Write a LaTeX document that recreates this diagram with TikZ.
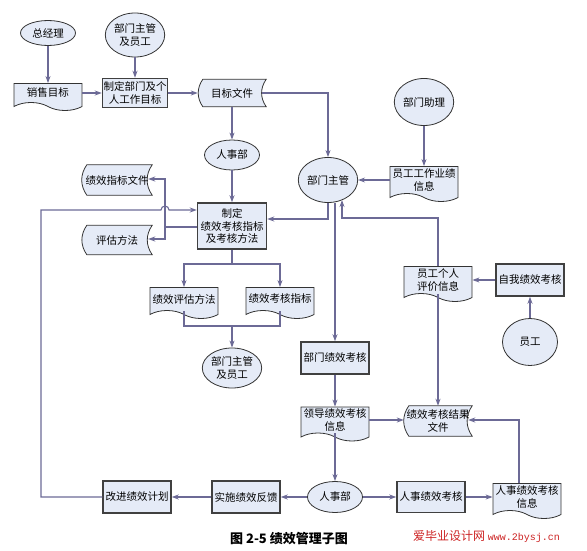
\documentclass[tikz,border=0pt]{standalone}
\usepackage{fontspec}
\setmainfont{Noto Sans CJK SC}
\setmonofont{Liberation Mono}
\usepackage{tikz}
\usetikzlibrary{positioning, arrows.meta, shapes.geometric, shapes.symbols, calc, backgrounds}

\definecolor{boxfill}{RGB}{229,235,247}
\definecolor{boxline}{RGB}{64,64,64}
\definecolor{flowline}{RGB}{108,106,150}
\definecolor{markred}{RGB}{204,34,34}

\tikzset{
  proc/.style={rectangle, draw=boxline, line width=1.5pt, fill=boxfill,
    minimum width=68pt, minimum height=32pt, inner sep=1pt, align=center},
  actor/.style={ellipse, draw=black!80, line width=0.8pt, fill=boxfill,
    minimum width=55pt, inner sep=0pt, align=center},
  doc/.style={tape, tape bend top=none, tape bend bottom=out and in,
    tape bend height=8pt, draw=black!80, line width=0.8pt, fill=boxfill,
    minimum width=68pt, inner sep=1pt, align=center},
  stored/.style={minimum width=68pt, minimum height=29pt, inner sep=1pt, align=center},
  storedline/.style={draw=black!80, line width=0.8pt, fill=boxfill},
  flow/.style={draw=flowline, line width=1.1pt, -{Stealth[length=7pt, width=5pt]}},
  link/.style={draw=flowline, line width=1.1pt},
}

\newcommand{\storedshape}[1]{%
  \path[storedline] ($(#1.north west)+(5pt,0)$) -- (#1.north east)
    to[bend right=35] (#1.south east) -- ($(#1.south west)+(5pt,0)$)
    to[bend left=35] ($(#1.north west)+(5pt,0)$) -- cycle;}

\begin{document}
\begin{tikzpicture}[x=1pt, y=-1pt, font=\fontsize{10.5}{12.5}\selectfont]
    \useasboundingbox (0,0) rectangle (587,551);

    \node[doc, minimum height=27pt] (sales) at (48,93) {销售目标};
    \node[proc, minimum width=65pt, minimum height=29pt] (setgoal) [right of=sales, node distance=87pt] {制定部门及个\\人工作目标};
    \node[stored, minimum height=27pt] (goalfile) [right of=setgoal, node distance=97pt] {目标文件};
    \node[actor, minimum height=25pt] (gm) [above of=sales, node distance=60pt] {总经理};
    \node[actor, minimum height=44pt] (mgrtop) [above of=setgoal, node distance=58pt] {部门主管\\及员工};

    \node[actor, minimum height=30pt] (hrtop) [below of=goalfile, node distance=62pt] {人事部};
    \node[proc, minimum width=69pt, minimum height=46pt] (setkpi) [below of=hrtop, node distance=71pt] {制定\\绩效考核指标\\及考核方法};
    \node[stored, minimum width=70pt, minimum height=30pt] (kpifile) at (117,180) {绩效指标文件};
    \node[stored, minimum width=70pt] (evalway) [below of=kpifile, node distance=60pt] {评估方法};
    \node[doc, minimum height=31pt] (evaldoc) at (184,299) {绩效评估方法};
    \node[doc, minimum height=31pt] (kpidoc) [right of=evaldoc, node distance=96pt] {绩效考核指标};
    \node[actor, minimum height=40pt] (mgrbot) at (232,368) {部门主管\\及员工};

    \node[actor, minimum height=45pt] (mgr) at (328,180) {部门主管};
    \node[doc, minimum height=35pt] (workinfo) [right of=mgr, node distance=96pt] {员工工作业绩\\信息};
    \node[actor, minimum height=47pt] (asst) [above of=workinfo, node distance=78pt] {部门助理};
    \node[doc, minimum height=35pt] (selfinfo) at (438,280) {员工个人\\评价信息};
    \node[proc] (selfrev) [right of=selfinfo, node distance=92pt] {自我绩效考核};
    \node[actor, minimum height=47pt] (staff) [below of=selfrev, node distance=62pt] {员工};
    \node[proc] (deptrev) at (335,358) {部门绩效考核};
    \node[doc, minimum height=34pt] (leadinfo) [below of=deptrev, node distance=62pt] {领导绩效考核\\信息};
    \node[stored, minimum height=30pt] (result) at (438,421) {绩效考核结果\\文件};

    \node[actor, minimum height=31pt] (hrbot) [below of=leadinfo, node distance=77pt] {人事部};
    \node[proc] (feedback) [left of=hrbot, node distance=89pt] {实施绩效反馈};
    \node[proc] (improve) [left of=feedback, node distance=109pt] {改进绩效计划};
    \node[proc, minimum height=31pt] (hrrev) [right of=hrbot, node distance=96pt] {人事绩效考核};
    \node[doc, minimum height=35pt] (hrinfo) [right of=hrrev, node distance=96pt] {人事绩效考核\\信息};

    \node[font=\fontsize{13}{15}\selectfont\bfseries] (caption) at (289,539) {图 2-5 绩效管理子图};
    \node[text=markred, anchor=west, inner sep=0pt] (mark) at (413,537) {\fontsize{12}{14}\selectfont 爱毕业设计网 \fontsize{10}{12}\ttfamily www.2bysj.cn};

    \begin{scope}[on background layer]
        \storedshape{goalfile}
        \storedshape{kpifile}
        \storedshape{evalway}
        \storedshape{result}
    \end{scope}

    \coordinate (fork) at (165,227);
    \coordinate (hop) at (165,210);
    \coordinate (loop) at (41,210);
    \coordinate (back) at (328,219);
    \coordinate (up) at (342,218);
    \coordinate (split) at (232,264);
    \coordinate (merge) at (232,326);

    \draw[flow] (gm.south) -- (sales.north);
    \draw[flow] (mgrtop.south) -- (setgoal.north);
    \draw[flow] (sales.east |- setgoal.west) -- (setgoal.west);
    \draw[flow] (setgoal.east) -- (goalfile.west);
    \draw[flow] ($(goalfile.east)+(-4,0)$) -| (mgr.north);
    \draw[flow] (goalfile.south) -- (hrtop.north);
    \draw[flow] (hrtop.south) -- (setkpi.north);
    \draw[flow] (asst.south) -- (workinfo.north);
    \draw[flow] (workinfo.west |- mgr.east) -- (mgr.east);

    \draw[link] (setkpi.west |- fork) -- (fork);
    \draw[flow] (fork) |- ($(kpifile.east)+(-4,-1)$);
    \draw[flow] (fork) |- ($(evalway.east)+(-4,-1)$);
    \draw[flow] (improve.west) -| (loop) -- ($(hop)+(-4,0)$) arc[start angle=180, end angle=0, radius=4pt] -- (setkpi.west |- hop);

    \draw[flow] (mgr.south) |- (setkpi.east |- back);
    \draw[flow] (mgr.south -| deptrev.north) -- (deptrev.north);
    \draw[flow] (selfinfo.north) |- (up) -- (up |- mgr.-54);
    \draw[flow] (selfrev.west) -- (selfinfo.east |- selfrev.west);
    \draw[flow] (staff.north) -- (selfrev.south);
    \draw[flow] (selfinfo.south) -- (result.north);

    \draw[link] (setkpi.south) -- (split);
    \draw[flow] (split) -| (evaldoc.north);
    \draw[flow] (split) -| (kpidoc.north);
    \draw[link] (evaldoc.south) |- (merge) -| (kpidoc.south);
    \draw[flow] (merge) -- (mgrbot.north);

    \draw[flow] (deptrev.south) -- (leadinfo.north);
    \draw[flow] (leadinfo.east) -- (leadinfo.east -| result.west);
    \draw[flow] (leadinfo.south) -- (hrbot.north);
    \draw[flow] (hrbot.west) -- (feedback.east);
    \draw[flow] (feedback.west) -- (improve.east);
    \draw[flow] (hrbot.east) -- (hrrev.west);
    \draw[flow] (hrrev.east) -- (hrinfo.west);
    \draw[flow] ($(hrinfo.north)+(-8,0)$) |- ($(result.east)+(-4,-1)$);
\end{tikzpicture}
\end{document}
